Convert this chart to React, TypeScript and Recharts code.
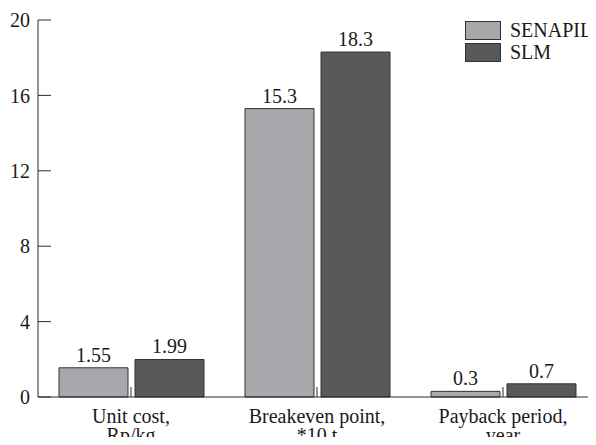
import { BarChart, Bar, XAxis, YAxis, Legend, LabelList } from 'recharts';

const categories = ['Unit cost,\nRp/kg', 'Breakeven point,\n*10 t', 'Payback period,\nyear'];
const senapil = [1.55, 15.3, 0.3];
const slm = [1.99, 18.3, 0.7];
const yTicks = [0, 4, 8, 12, 16, 20];

const data = categories.map((name, i) => ({
	name,
	SENAPIL: senapil[i],
	SLM: slm[i],
}));

const FONT = '"Liberation Serif", "DejaVu Serif", serif';
const AXIS = '#2b2b2b';
const LIGHT = '#a7a8ab';
const DARK = '#58595b';

// two-line category labels under the axis
const CategoryTick = ({ x, y, payload }: any) => {
	const lines = String(payload.value).split('\n');
	return (
		<text x={x} y={y} textAnchor='middle' fontSize={20} style={{ fontFamily: FONT }} fill='#1a1a1a'>
			{lines.map((line, i) => (
				<tspan key={i} x={x} dy={i === 0 ? 36 : 18.5}>
					{line}
				</tspan>
			))}
		</text>
	);
};

// legend drawn with no size of its own so it takes no room from the plot
const renderLegend = ({ payload }: any) => (
	<div style={{ position: 'relative', height: 0 }}>
		{(payload || []).map((item: any, i: number) => (
			<div
				key={item.value}
				style={{
					position: 'absolute',
					left: 465,
					top: 21 + i * 22,
					display: 'flex',
					alignItems: 'center',
					whiteSpace: 'nowrap',
				}}>
				<span
					style={{
						display: 'inline-block',
						width: 34,
						height: 17,
						background: item.color,
						border: '1px solid #333',
					}}
				/>
				<span style={{ marginLeft: 9, fontSize: 20, fontFamily: FONT, color: '#1a1a1a', lineHeight: '19px' }}>
					{item.value}
				</span>
			</div>
		))}
	</div>
);

export default function App() {
	return (
		<div style={{ margin: -8, width: 596, height: 445, background: '#fff', fontFamily: FONT }}>
			<BarChart
				width={596}
				height={445}
				data={data}
				style={{ fontFamily: FONT }}
				margin={{ top: 20, right: 0, left: 0, bottom: 0 }}
				barCategoryGap={21}
				barGap={7}>
				<XAxis
					dataKey='name'
					height={48}
					stroke={AXIS}
					tickSize={-10}
					tickMargin={0}
					tick={<CategoryTick />}
					interval={0}
				/>
				<YAxis
					width={38}
					domain={[0, 20]}
					ticks={yTicks}
					stroke={AXIS}
					tickSize={-13}
					tickMargin={21}
					tick={{ fontSize: 20, fontFamily: FONT, fill: '#1a1a1a' }}
				/>
				<Legend verticalAlign='top' layout='horizontal' wrapperStyle={{ top: 0, left: 0 }} content={renderLegend} />
				<Bar dataKey='SENAPIL' fill={LIGHT} stroke='#333' strokeWidth={1} isAnimationActive={false}>
					<LabelList dataKey='SENAPIL' position='top' offset={6} fontSize={20} fontFamily={FONT} fill='#1a1a1a' />
				</Bar>
				<Bar dataKey='SLM' fill={DARK} stroke='#333' strokeWidth={1} isAnimationActive={false}>
					<LabelList dataKey='SLM' position='top' offset={6} fontSize={20} fontFamily={FONT} fill='#1a1a1a' />
				</Bar>
			</BarChart>
		</div>
	);
}
